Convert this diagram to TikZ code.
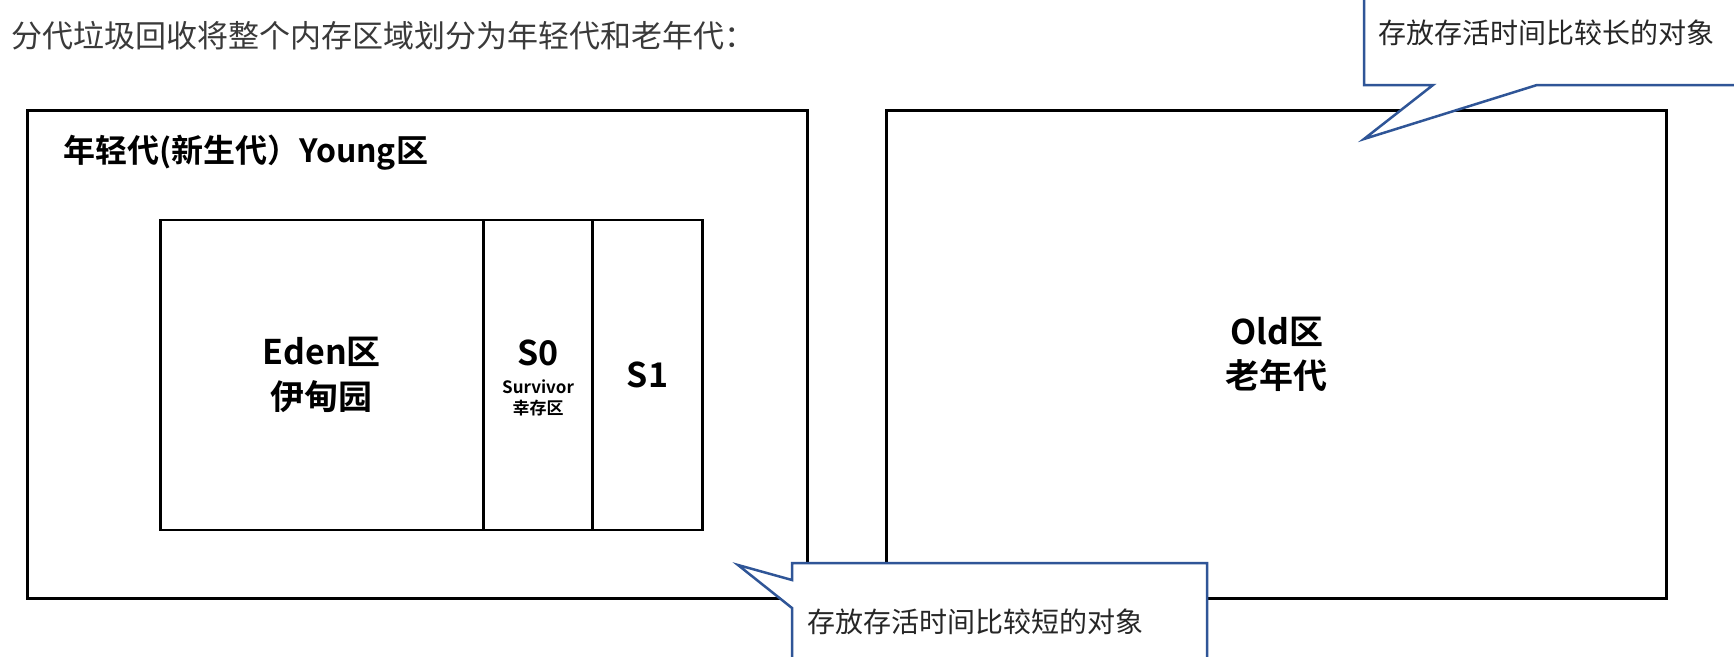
\documentclass[tikz,border=0pt]{standalone}
\usepackage{fontspec}
\setmainfont{Noto Sans CJK SC}[BoldFont={Noto Sans CJK SC Bold}]
\usetikzlibrary{positioning}

\definecolor{calloutblue}{HTML}{2F5597}
\definecolor{titlegray}{HTML}{3A3A3A}
\definecolor{notegray}{HTML}{262626}

\tikzset{
  regionbox/.style={draw=black, line width=3pt, inner sep=0pt, outer sep=0pt,
    minimum width=779.8pt, minimum height=487.7pt},
  spacebox/.style={draw=black, line width=2.7pt, inner sep=0pt, outer sep=0pt,
    minimum height=310pt, align=center,
    font=\bfseries\fontsize{34}{45}\selectfont},
  smalltext/.style={inner sep=0pt, font=\bfseries\fontsize{17}{17}\selectfont},
  bigtext/.style={inner sep=0pt, font=\bfseries\fontsize{34}{34}\selectfont},
  callout/.style={draw=calloutblue, line width=2.5pt, fill=white, line join=miter},
  notetext/.style={anchor=west, inner sep=0pt, text=notegray,
    font=\fontsize{28}{28}\selectfont}
}

\begin{document}
\begin{tikzpicture}[x=1pt,y=-1pt]
    \clip (0,0) rectangle (1734,656);
    \fill[white] (0,0) rectangle (1734,656);

    % ~~~~ Titulo ~~~~%
    \node[anchor=west, inner sep=0pt, text=titlegray,
      font=\fontsize{31}{31}\selectfont] (title) at (11,36)
      {分代垃圾回收将整个内存区域划分为年轻代和老年代：};

    % ~~~~ Young ~~~~%
    \node[regionbox] (young) at (417.5,354.45) {};
    \node[anchor=west, inner sep=0pt,
      font=\bfseries\fontsize{32}{32}\selectfont] (younglabel) at (63,152.6)
      {年轻代(新生代）Young区};

    \node[spacebox, minimum width=322.9pt] (eden) at (321.85,375) {Eden区\\伊甸园};
    \node[spacebox, minimum width=109.5pt, right=0pt of eden] (szero) {};
    \node[spacebox, minimum width=109.5pt, right=0pt of szero] (sone) {S1};

    \node[bigtext] (szerotitle) at ([yshift=22pt]szero.center) {S0};
    \node[smalltext] (survivor) at ([yshift=-12pt]szero.center) {Survivor};
    \node[smalltext] (survivorcn) at ([yshift=-33pt]szero.center) {幸存区};

    % ~~~~ Old ~~~~%
    \node[regionbox, align=center,
      font=\bfseries\fontsize{34}{44}\selectfont] (old) at (1276.85,354.45)
      {Old区\\老年代};

    % ~~~~ Notas ~~~~%
    \coordinate (longtip) at (1364,139);
    \coordinate (shorttip) at (738,565);
    \draw[callout] (1745,85) -- (1537,85) -- (longtip) -- (1433,85)
      -- (1364,85) -- (1364,-10) -- (1745,-10) -- cycle;
    \node[notetext] (longnote) at (1378,33) {存放存活时间比较长的对象};

    \draw[callout] (792,666) -- (792,608) -- (shorttip) -- (792,580)
      -- (792,563) -- (1207,563) -- (1207,666) -- cycle;
    \node[notetext] (shortnote) at (807,622) {存放存活时间比较短的对象};
\end{tikzpicture}
\end{document}
